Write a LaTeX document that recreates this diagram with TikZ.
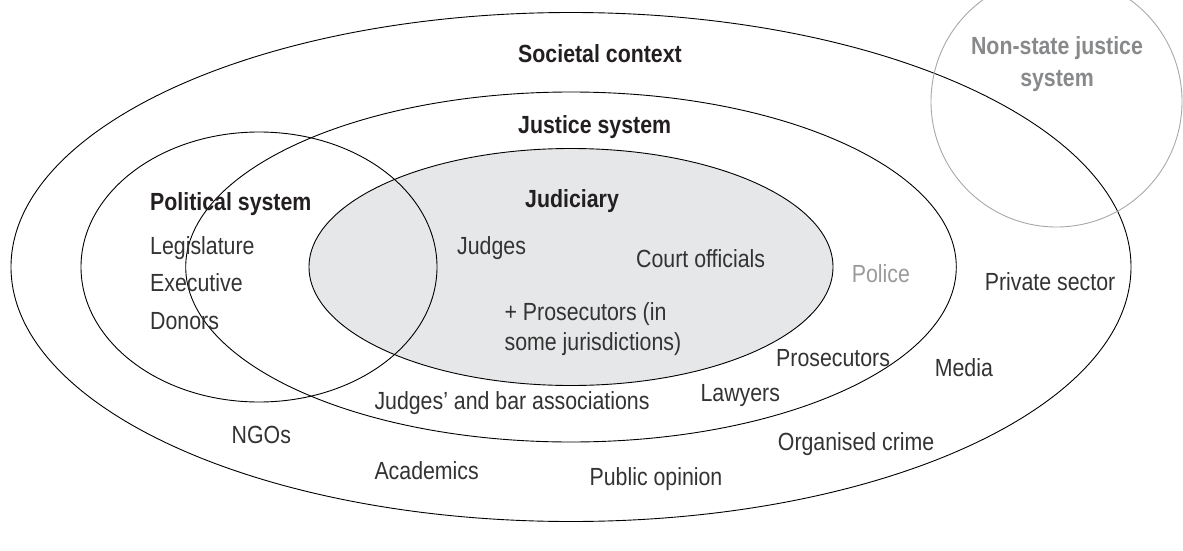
\documentclass[tikz,border=0pt]{standalone}
\usepackage{fontspec}
\setmainfont{Liberation Sans}[FakeStretch=0.86]
\definecolor{judfill}{HTML}{E6E7E8}
\definecolor{headc}{HTML}{231F20}
\definecolor{itemc}{HTML}{333333}
\definecolor{lightc}{HTML}{9A9A9C}
\definecolor{nsc}{HTML}{88898B}
\definecolor{nsline}{HTML}{A7A8AA}
\begin{document}
\begin{tikzpicture}[x=1pt,y=-1pt,
  ring/.style={draw=black, line width=0.9pt},
  head/.style={font=\fontsize{24.8}{28}\selectfont\bfseries, text=headc, inner sep=0pt, anchor=base west},
  item/.style={font=\fontsize{24.8}{28}\selectfont, text=itemc, inner sep=0pt, anchor=base west},
  nshead/.style={font=\fontsize{24.8}{28}\selectfont\bfseries, text=nsc, inner sep=0pt, anchor=base},
  lightitem/.style={item, text=lightc}]
\useasboundingbox (0,0) rectangle (1183,551);
% judiciary fill
\fill[judfill] (571,267) ellipse [x radius=262pt, y radius=118.5pt];
% rings
\draw[ring] (571,267) ellipse [x radius=560pt, y radius=254.5pt];
\draw[ring] (571,267) ellipse [x radius=385.3pt, y radius=175pt];
\draw[ring] (571,267) ellipse [x radius=262pt, y radius=118.5pt];
\draw[ring] (259,267) ellipse [x radius=178pt, y radius=135pt];
\draw[draw=nsline, line width=0.9pt] (1056.5,101.5) circle [radius=125.5pt];
% headings
\node[head] (societal) at (518,62.7) {Societal context};
\node[head] (justice) at (518,133.3) {Justice system};
\node[head] (judiciary) at (525,207) {Judiciary};
\node[head] (political) at (150,210) {Political system};
\node[nshead] (nonstate1) at (1057,55) {Non-state justice};
\node[nshead] (nonstate2) at (1057,86) {system};
% political items
\node[item] (legislature) at (150,254) {Legislature};
\node[item] (executive) at (150,291) {Executive};
\node[item] (donors) at (150,329) {Donors};
% judiciary items
\node[item] (judges) at (457,254) {Judges};
\node[item] (court) at (636,267) {Court officials};
\node[item] (prosec1) at (504.4,320) {+ Prosecutors (in};
\node[item] (prosec2) at (504.4,350) {some jurisdictions)};
% justice system items
\node[lightitem] (police) at (851.7,282.7) {Police};
\node[item] (prosecutors) at (776,366) {Prosecutors};
\node[item] (lawyers) at (700.4,401.7) {Lawyers};
\node[item] (assoc) at (374.3,409.5) {Judges' and bar associations};
% societal items
\node[item] (private) at (984.7,290) {Private sector};
\node[item] (media) at (934.6,376.7) {Media};
\node[item] (ngos) at (231.5,443.3) {NGOs};
\node[item] (crime) at (777.7,450) {Organised crime};
\node[item] (academics) at (374.3,479.5) {Academics};
\node[item] (public) at (589.4,485.5) {Public opinion};
\end{tikzpicture}
\end{document}
